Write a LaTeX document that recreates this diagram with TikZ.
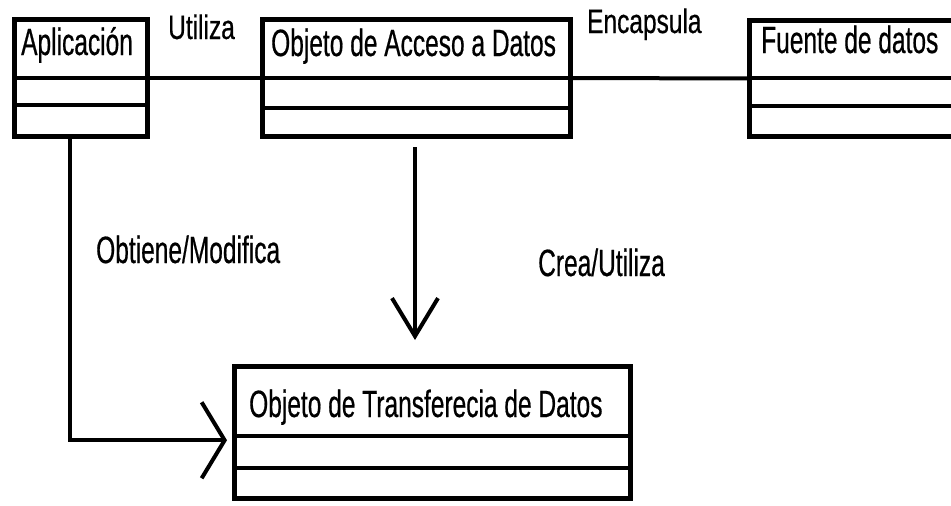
\documentclass[tikz,border=0pt]{standalone}
\usepackage{fontspec}
\usetikzlibrary{arrows.meta,calc}
\newfontfamily\mainlbl[FakeStretch=0.645,FakeBold=0.5]{Liberation Sans}
\newfontfamily\toplbl[FakeStretch=0.72,FakeBold=0.5]{Liberation Sans}
\tikzset{
  umlbox/.style={draw=black, line width=5pt, rectangle, outer sep=0pt, inner sep=0pt},
  divider/.style={draw=black, line width=3.5pt},
  conn/.style={draw=black, line width=4pt},
  boxtxt/.style={anchor=base west, inner sep=0pt, font=\mainlbl\fontsize{38}{42}\selectfont},
  lbl/.style={anchor=base west, inner sep=0pt, font=\mainlbl\fontsize{38}{42}\selectfont},
  toplabel/.style={anchor=base west, inner sep=0pt, font=\toplbl\fontsize{34}{38}\selectfont},
  vhead/.style={-{Straight Barb[length=38pt,width=46pt,line width=4pt]}},
  hhead/.style={-{Straight Barb[length=23pt,width=76pt,line width=4pt]}}
}
\begin{document}
\begin{tikzpicture}[x=1pt,y=-1pt]
\clip (0,0) rectangle (951,506);
\fill[white] (0,0) rectangle (951,506);
% boxes
\node[umlbox, minimum width=133.5pt, minimum height=117pt] (app) at (80.75,78) {};
\node[umlbox, minimum width=307.5pt, minimum height=117pt] (dao) at (416.25,78) {};
\node[umlbox, minimum width=220pt, minimum height=116pt] (src) at (859.5,78.5) {};
\node[umlbox, minimum width=396pt, minimum height=132.5pt] (dto) at (432.5,432.25) {};
% dividers
\draw[divider] (app.west) -- (app.east);
\draw[divider] ([yshift=-27pt]app.west) -- ([yshift=-27pt]app.east);
\draw[divider] (dao.west) -- (dao.east);
\draw[divider] ([yshift=-30pt]dao.west) -- ([yshift=-30pt]dao.east);
\draw[divider] ([yshift=0.5pt]src.west) -- ([yshift=0.5pt]src.east);
\draw[divider] ([yshift=-27.5pt]src.west) -- ([yshift=-27.5pt]src.east);
\draw[divider] ([yshift=-3.75pt]dto.west) -- ([yshift=-3.75pt]dto.east);
\draw[divider] ([yshift=-35.75pt]dto.west) -- ([yshift=-35.75pt]dto.east);
% box titles
\node[boxtxt] (apptxt) at (21,55) {Aplicación};
\node[boxtxt] (daotxt) at (271,56) {Objeto de Acceso a Datos};
\node[boxtxt] (srctxt) at (761,53) {Fuente de datos};
\node[boxtxt] (dtotxt) at (249,417) {Objeto de Transferecia de Datos};
% connectors
\draw[conn] (app.east) -- (dao.west);
\draw[conn] (dao.east) -- (src.west);
\draw[conn, vhead] ([xshift=-1.25pt, yshift=-10.5pt]dao.south) -- ([xshift=-17.5pt, yshift=26pt]dto.north);
\draw[conn, hhead] ([xshift=-10.75pt]app.south) |- ([xshift=-7.5pt, yshift=-8pt]dto.west);
% labels
\node[toplabel] (lutil) at (168,39) {Utiliza};
\node[toplabel] (lenc) at (587,33) {Encapsula};
\node[lbl] (lobt) at (96,263) {Obtiene/Modifica};
\node[lbl] (lcrea) at (538,276) {Crea/Utiliza};
\end{tikzpicture}
\end{document}
